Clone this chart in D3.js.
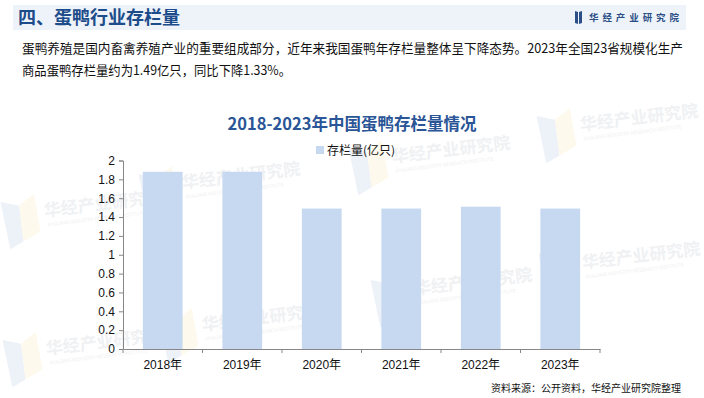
<!DOCTYPE html>
<html>
<head>
<meta charset="utf-8">
<script src="https://cdnjs.cloudflare.com/ajax/libs/d3/7.8.5/d3.min.js"></script>
<style>
  body { margin: 0; background: #fff; }
  svg { display: block; font-family: "Noto Sans CJK SC", "Liberation Sans", sans-serif; }
</style>
</head>
<body>
<script>

// Data
var years = ["2018年", "2019年", "2020年", "2021年", "2022年", "2023年"];
var stock = [1.88, 1.88, 1.49, 1.49, 1.51, 1.49];   // 存栏量(亿只)
var yTicks = [0, 0.2, 0.4, 0.6, 0.8, 1, 1.2, 1.4, 1.6, 1.8, 2];

var W = 704, H = 398;
var barColor = "#c6d9f1";

var svg = d3.select("body").append("svg")
    .attr("width", W)
    .attr("height", H);

// faint watermarks behind everything
var marks = [[2, 214], [140, 186], [350, 160], [538, 128], [4, 352], [160, 328], [372, 292], [540, 266]];
var wm = svg.append("g").attr("class", "watermarks");
marks.forEach(function (p) {
    var g = wm.append("g").attr("transform", "translate(" + p[0] + "," + p[1] + ") rotate(-7)");
    g.append("path").attr("d", "M0,-12 L18,-6 L18,30 L4,36 Z").attr("fill", "#edf1f8");
    g.append("path").attr("d", "M18,-6 L34,-16 L36,22 L18,30 Z").attr("fill", "#fdf9ec");
    g.append("text").attr("x", 42).attr("y", 8)
        .attr("font-size", 17).attr("font-weight", "bold")
        .attr("fill", "#eff1f3").text("华经产业研究院");
    g.append("text").attr("x", 44).attr("y", 18)
        .attr("font-size", 5).attr("fill", "#eff1f3")
        .text("HUAJING INDUSTRY RESEARCH INSTITUTE");
});

// header band
svg.append("rect")
    .attr("x", 13).attr("y", 5)
    .attr("width", 673).attr("height", 25)
    .attr("fill", "#eef3fa");

svg.append("text")
    .attr("x", 18).attr("y", 24)
    .attr("font-size", 18).attr("font-weight", "bold")
    .attr("fill", "#1d4c8a")
    .text("四、蛋鸭行业存栏量");

// brand logo (top right)
svg.append("path")
    .attr("d", "M575,11 L578,12 L578,24 L575,23 Z M579,12 L582,11 L582,23 L579,24 Z")
    .attr("fill", "#2b4f86");
svg.append("text")
    .attr("x", 589).attr("y", 21)
    .attr("font-size", 9.5).attr("font-weight", "bold")
    .attr("fill", "#2b4f86")
    .attr("textLength", 90).attr("lengthAdjust", "spacing")
    .text("华经产业研究院");

// paragraph
svg.append("text")
    .attr("x", 22).attr("y", 53)
    .attr("font-size", 13).attr("fill", "#111")
    .attr("textLength", 661).attr("lengthAdjust", "spacingAndGlyphs")
    .text("蛋鸭养殖是国内畜禽养殖产业的重要组成部分，近年来我国蛋鸭年存栏量整体呈下降态势。2023年全国23省规模化生产");
svg.append("text")
    .attr("x", 22).attr("y", 75)
    .attr("font-size", 13).attr("fill", "#111")
    .attr("textLength", 269).attr("lengthAdjust", "spacingAndGlyphs")
    .text("商品蛋鸭存栏量约为1.49亿只，同比下降1.33%。");

// chart title
svg.append("text")
    .attr("x", 352).attr("y", 130)
    .attr("text-anchor", "middle")
    .attr("font-size", 16.5).attr("font-weight", "bold")
    .attr("fill", "#2a5596")
    .text("2018-2023年中国蛋鸭存栏量情况");

// legend
svg.append("rect")
    .attr("x", 316).attr("y", 146)
    .attr("width", 8).attr("height", 8)
    .attr("fill", barColor);
svg.append("text")
    .attr("x", 327).attr("y", 155)
    .attr("font-size", 12).attr("fill", "#111")
    .text("存栏量(亿只)");

// scales
var x = d3.scaleBand()
    .domain(years)
    .range([123, 600])
    .paddingInner(0.5)
    .paddingOuter(0.25);

var y = d3.scaleLinear()
    .domain([0, 2])
    .range([349, 160.5]);

// bars
svg.selectAll("rect.bar")
    .data(stock)
    .enter()
    .append("rect")
    .attr("class", "bar")
    .attr("x", function (d, i) { return x(years[i]); })
    .attr("width", x.bandwidth())
    .attr("y", function (d) { return y(d); })
    .attr("height", function (d) { return y(0) - y(d); })
    .attr("fill", barColor);

// y axis
var yAxis = svg.append("g")
    .attr("transform", "translate(123,0)")
    .call(d3.axisLeft(y)
        .tickValues(yTicks)
        .tickSize(4)
        .tickPadding(4)
        .tickFormat(function (d) { return d3.format("~g")(d); }));
yAxis.select(".domain").attr("stroke", "#878787");
yAxis.selectAll(".tick line").attr("stroke", "#878787");
yAxis.selectAll(".tick text")
    .attr("font-size", 12)
    .attr("font-family", "'Liberation Sans', Arial, sans-serif")
    .attr("fill", "#111");

// x axis
var xAxis = svg.append("g")
    .attr("transform", "translate(0," + y(0) + ")")
    .call(d3.axisBottom(x).tickSize(0).tickPadding(11));
xAxis.select(".domain").attr("stroke", "#878787");
xAxis.selectAll(".tick text")
    .attr("font-size", 12)
    .attr("font-family", "'Liberation Sans', 'Noto Sans CJK SC', sans-serif")
    .attr("fill", "#111");

// category boundary ticks
var step = x.step();
var edges = years.map(function (d) { return x(d) - step * x.paddingInner() / 2; })
    .concat([x(years[years.length - 1]) + x.bandwidth() + step * x.paddingInner() / 2]);
xAxis.selectAll("line.edge")
    .data(edges)
    .enter()
    .append("line")
    .attr("class", "edge")
    .attr("x1", function (d) { return d; })
    .attr("x2", function (d) { return d; })
    .attr("y1", 0).attr("y2", 4)
    .attr("stroke", "#878787");

// source note
svg.append("text")
    .attr("x", 681).attr("y", 392)
    .attr("text-anchor", "end")
    .attr("font-size", 10).attr("fill", "#111")
    .text("资料来源：公开资料，华经产业研究院整理");

</script>
</body>
</html>
